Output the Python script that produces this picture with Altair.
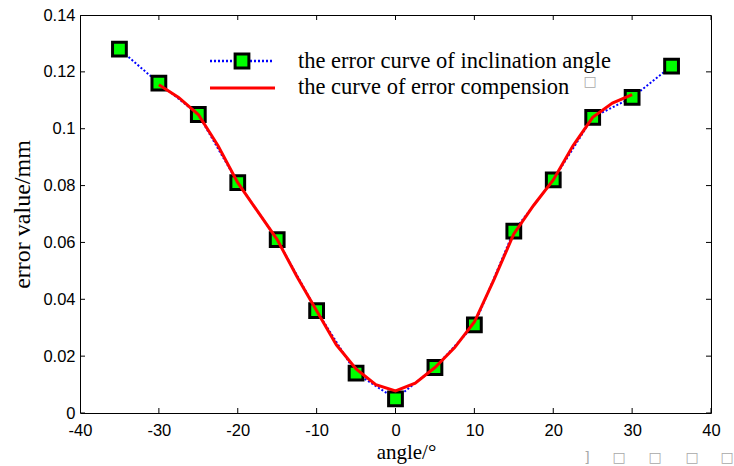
import altair as alt
import pandas as pd

# measured error of inclination angle (markers + dotted blue line)
angles = [-35, -30, -25, -20, -15, -10, -5, 0, 5, 10, 15, 20, 25, 30, 35]
errors = [0.128, 0.116, 0.105, 0.081, 0.061, 0.036, 0.014, 0.005,
          0.016, 0.031, 0.064, 0.082, 0.104, 0.111, 0.122]

# error compensation curve (red)
comp_angles = [-30, -27.5, -25, -22.5, -20, -17.5, -15, -12.5, -10, -7.5, -5, -2.5,
               0, 2.5, 5, 7.5, 10, 12.5, 15, 17.5, 20, 22.5, 25, 27.5, 30]
comp_errors = [0.1155, 0.111, 0.105, 0.094, 0.081, 0.071, 0.061, 0.048, 0.036, 0.024,
               0.0155, 0.010, 0.0078, 0.0105, 0.016, 0.023, 0.032, 0.047, 0.063,
               0.073, 0.082, 0.094, 0.104, 0.109, 0.112]

x_ticks = [-40, -30, -20, -10, 0, 10, 20, 30, 40]
y_ticks = [0, 0.02, 0.04, 0.06, 0.08, 0.1, 0.12, 0.14]

legend_labels = ["the error curve of inclination angle", "the curve of error compension"]
x_title = "angle/°"
y_title = "error value/mm"

W, H = 631, 398

xscale = alt.Scale(domain=[-40, 40], nice=False, zero=False)
yscale = alt.Scale(domain=[0, 0.14], nice=False, zero=False)

xaxis = alt.Axis(values=x_ticks, labelExpr="datum.value + ''", title=x_title,
                 titleFont="Liberation Serif", titleFontSize=21, titleFontWeight="normal",
                 titleColor="black", titleX=326, titleY=39, titleBaseline="middle",
                 titleAlign="center",
                 labelFont="Liberation Sans", labelFontSize=16.5, labelColor="black",
                 labelPadding=9, ticks=False, tickSize=0, domain=False, grid=False,
                 labelFlush=False, labelOverlap=False)
yaxis = alt.Axis(values=y_ticks, format="~g", title=y_title,
                 titleFont="Liberation Serif", titleFontSize=24, titleFontWeight="normal",
                 titleColor="black", titleX=-58, titleY=199, titleBaseline="middle",
                 titleAlign="center", titleAngle=270,
                 labelFont="Liberation Sans", labelFontSize=16.5, labelColor="black",
                 labelPadding=5, ticks=False, tickSize=0, domain=False, grid=False,
                 labelFlush=False, labelOverlap=False)

X = alt.X("x:Q", scale=xscale, axis=xaxis)
Y = alt.Y("y:Q", scale=yscale, axis=yaxis)

pts = pd.DataFrame({"x": angles, "y": errors})
comp = pd.DataFrame({"x": comp_angles, "y": comp_errors})

blue = alt.Chart(pts).mark_line(color="#0000ff", strokeDash=[2, 2], strokeWidth=2).encode(x=X, y=Y)
squares = alt.Chart(pts).mark_square(size=190, fill="#00ff00", stroke="black",
                                     strokeWidth=3, opacity=1).encode(x=X, y=Y)
red = alt.Chart(comp).mark_line(color="#ff0000", strokeWidth=3).encode(x=X, y=Y)

# inward tick marks on all four sides (clipped at the frame)
xt_df = pd.DataFrame({"x": x_ticks * 2, "y": [0] * len(x_ticks) + [0.14] * len(x_ticks)})
yt_df = pd.DataFrame({"x": [-40] * len(y_ticks) + [40] * len(y_ticks), "y": y_ticks * 2})
xt = alt.Chart(xt_df).mark_tick(orient="vertical", size=10, thickness=1, color="black",
                                opacity=1, clip=True).encode(x=X, y=Y)
yt = alt.Chart(yt_df).mark_tick(orient="horizontal", size=10, thickness=1, color="black",
                                opacity=1, clip=True).encode(x=X, y=Y)

# legend (drawn manually)
one = pd.DataFrame({"k": [0]})
leg_blue = alt.Chart(one).mark_rule(color="#0000ff", strokeDash=[2, 2], strokeWidth=2.5).encode(
    x=alt.value(130), x2=alt.value(194), y=alt.value(46))
leg_sq = alt.Chart(one).mark_square(size=190, fill="#00ff00", stroke="black",
                                    strokeWidth=3, opacity=1).encode(x=alt.value(162), y=alt.value(46))
leg_red = alt.Chart(one).mark_rule(color="#ff0000", strokeWidth=3).encode(
    x=alt.value(130), x2=alt.value(195), y=alt.value(73))
leg_t1 = alt.Chart(pd.DataFrame({"t": [legend_labels[0]]})).mark_text(
    font="Liberation Serif", fontSize=22.5, align="left", baseline="middle", color="black").encode(
    x=alt.value(218), y=alt.value(46), text="t:N")
leg_t2 = alt.Chart(pd.DataFrame({"t": [legend_labels[1]]})).mark_text(
    font="Liberation Serif", fontSize=22.5, align="left", baseline="middle", color="black").encode(
    x=alt.value(218), y=alt.value(72), text="t:N")

# stray missing-glyph boxes in the original
tofu1 = alt.Chart(pd.DataFrame({"t": ["□"]})).mark_text(
    font="DejaVu Sans", fontSize=14, color="#a8a8a8", baseline="middle").encode(
    x=alt.value(510), y=alt.value(67), text="t:N")
tofu_x = [507, 539, 575, 612, 647]
tofu2 = alt.Chart(pd.DataFrame({"t": ["]", "□", "□", "□", "□"], "px": tofu_x})).mark_text(
    font="DejaVu Sans", fontSize=14, color="#a8a8a8", baseline="middle").encode(
    x=alt.X("px:Q", scale=None), y=alt.value(443), text="t:N")

chart = alt.layer(blue, squares, red, xt, yt, leg_blue, leg_sq, leg_red,
                  leg_t1, leg_t2, tofu1, tofu2).properties(
    width=W, height=H,
    padding={"left": 80, "top": 15, "right": 23, "bottom": 53},
    autosize=alt.AutoSizeParams(type="none"),
    background="white",
).configure_view(stroke="black", strokeWidth=1)

chart.save("out.html", embed_options={"renderer": "svg", "actions": False})
